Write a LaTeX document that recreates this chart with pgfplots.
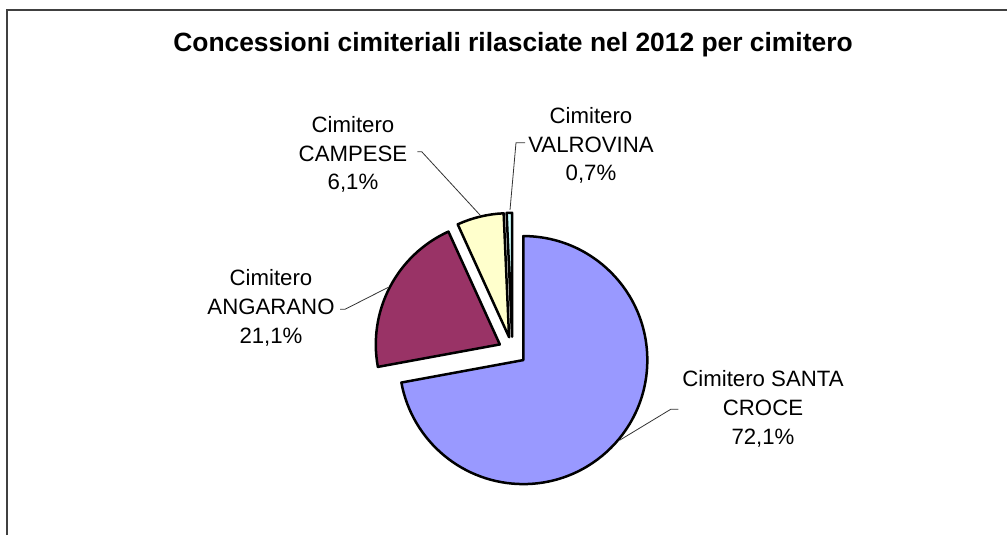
\documentclass[border=0pt]{standalone}
\usepackage{pgfplots}
\usepackage{pgfplotstable}
\pgfplotsset{compat=1.18}
\usepackage{fontspec}
\setmainfont{Liberation Sans}
\definecolor{cSC}{HTML}{9999FF}
\definecolor{cAN}{HTML}{993366}
\definecolor{cCA}{HTML}{FFFFCC}
\definecolor{cVA}{HTML}{CCFFFF}
\pgfplotstableread{
idx pct
0 72.1
1 21.1
2 6.1
3 0.7
}\piedata
\def\cx{512.4}\def\cy{184}\def\rad{124}\def\ex{14.2}
\pgfplotstablegetelem{0}{pct}\of\piedata\let\pA\pgfplotsretval
\pgfplotstablegetelem{1}{pct}\of\piedata\let\pB\pgfplotsretval
\pgfplotstablegetelem{2}{pct}\of\piedata\let\pC\pgfplotsretval
\pgfplotstablegetelem{3}{pct}\of\piedata\let\pD\pgfplotsretval
\pgfmathsetmacro\aA{90}
\pgfmathsetmacro\aB{\aA-3.6*\pA}
\pgfmathsetmacro\aC{\aB-3.6*\pB}
\pgfmathsetmacro\aD{\aC-3.6*\pC}
\pgfmathsetmacro\aE{\aD-3.6*\pD}
\newcommand\pieslice[3]{%
 \pgfmathsetmacro\midang{(#1+#2)/2}%
 \pgfmathsetmacro\ox{\cx+\ex*cos(\midang)}%
 \pgfmathsetmacro\oy{\cy+\ex*sin(\midang)}%
 \edef\temp{\noexpand\filldraw[fill=#3,draw=black,line width=2.5bp,line join=round] (axis cs:\ox,\oy) -- ++(#1:\rad bp) arc[start angle=#1,end angle=#2,radius=\rad bp] -- cycle;}%
 \temp}
\newcommand\lbl[5]{%
 \pgfmathsetmacro\ya{535-#2}\pgfmathsetmacro\yb{535-#2-28.8}\pgfmathsetmacro\yc{535-#2-57.6}%
 \edef\temp{\noexpand\node[anchor=base,font=\noexpand\fontsize{22.2bp}{26bp}\noexpand\selectfont,inner sep=0pt] at (axis cs:#1,\ya) {\unexpanded{#3}};%
 \noexpand\node[anchor=base,font=\noexpand\fontsize{22.2bp}{26bp}\noexpand\selectfont,inner sep=0pt] at (axis cs:#1,\yb) {\unexpanded{#4}};%
 \noexpand\node[anchor=base,font=\noexpand\fontsize{22.2bp}{26bp}\noexpand\selectfont,inner sep=0pt] at (axis cs:#1,\yc) {\unexpanded{#5}};}%
 \temp}
\begin{document}
\begin{tikzpicture}
\begin{axis}[width=1007bp,height=535bp,scale only axis,
  xmin=0,xmax=1007,ymin=0,ymax=535,hide axis,clip mode=global]
\path (axis cs:0,0) rectangle (axis cs:1007,535);
\draw[line width=1.6bp,black!75] (axis cs:6.8,0) -- (axis cs:6.8,525.2) -- (axis cs:1007,525.2);
\node[anchor=base,font=\fontsize{26.4bp}{30bp}\selectfont\bfseries,inner sep=0pt] at (axis cs:513,483.7) {Concessioni cimiteriali rilasciate nel 2012 per cimitero};
\pieslice{\aA}{\aB}{cSC}
\pieslice{\aB}{\aC}{cAN}
\pieslice{\aC}{\aD}{cCA}
\pieslice{\aD}{\aE}{cVA}
\draw[line width=0.8bp,black!80] (axis cs:417.3,383.3) -- (axis cs:421.7,383.3) -- (axis cs:480,320);
\draw[line width=0.8bp,black!80] (axis cs:525,392.3) -- (axis cs:516,392.3) -- (axis cs:510,325);
\draw[line width=0.8bp,black!80] (axis cs:340,225.7) -- (axis cs:345,225.7) -- (axis cs:388.3,247.7);
\draw[line width=0.8bp,black!80] (axis cs:678.3,125.7) -- (axis cs:670.7,125.7) -- (axis cs:620,95);
\lbl{353}{132.3}{Cimitero}{CAMPESE}{6,1\%}
\lbl{591}{123.3}{Cimitero}{VALROVINA}{0,7\%}
\lbl{271}{285.7}{Cimitero}{ANGARANO}{21,1\%}
\lbl{763}{386.7}{Cimitero SANTA}{CROCE}{72,1\%}
\end{axis}
\end{tikzpicture}
\end{document}
